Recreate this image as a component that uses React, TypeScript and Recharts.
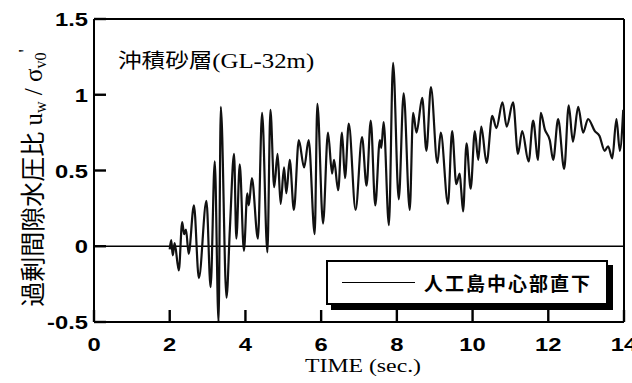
import {
  LineChart,
  Line,
  XAxis,
  YAxis,
  ReferenceLine,
  Legend,
  Customized,
} from "recharts";

// time (sec.) and excess pore water pressure ratio
const times = [
  2.0, 2.04, 2.08, 2.13, 2.24, 2.33, 2.38, 2.43, 2.5, 2.64,
  2.77, 2.97, 3.08, 3.19, 3.29, 3.35, 3.5, 3.59, 3.7, 3.76,
  3.85, 3.96, 4.05, 4.09, 4.17, 4.33, 4.44, 4.58, 4.66, 4.76,
  4.85, 4.93, 5.02, 5.08, 5.17, 5.28, 5.41, 5.55, 5.67, 5.83,
  5.9, 6.05, 6.18, 6.29, 6.34, 6.45, 6.55, 6.63, 6.73, 6.91,
  7.08, 7.2, 7.31, 7.43, 7.55, 7.59, 7.65, 7.79, 7.9, 8.05,
  8.18, 8.34, 8.43, 8.52, 8.67, 8.78, 8.9, 9.07, 9.16, 9.35,
  9.46, 9.57, 9.66, 9.7, 9.75, 9.84, 9.95, 10.06, 10.15, 10.23,
  10.37, 10.52, 10.63, 10.79, 10.9, 11.07, 11.2, 11.31, 11.48, 11.6,
  11.73, 11.8, 11.91, 12.04, 12.13, 12.26, 12.42, 12.54, 12.65, 12.79,
  12.92, 13.05, 13.23, 13.35, 13.49, 13.58, 13.69, 13.8, 13.89, 13.98,
];

const ratio = [
  -0.02, 0.04, -0.06, 0.02, -0.16, 0.16, 0.08, 0.11, -0.05, 0.27,
  -0.21, 0.3, -0.27, 0.56, -0.5, 0.92, -0.34, 0.12, 0.61, 0.05,
  0.54, -0.03, 0.35, 0.27, 0.45, 0.05, 0.88, -0.04, 0.9, 0.39,
  0.61, 0.28, 0.52, 0.35, 0.57, 0.24, 0.7, 0.52, 0.7, 0.08,
  0.94, 0.15, 0.75, 0.48, 0.57, 0.37, 0.75, 0.45, 0.81, 0.24,
  0.72, 0.4, 0.83, 0.27, 0.7, 0.65, 0.82, 0.14, 1.21, 0.31,
  1.01, 0.24, 0.88, 0.75, 0.98, 0.63, 1.05, 0.55, 0.75, 0.28,
  0.76, 0.41, 0.48, 0.37, 0.23, 0.68, 0.38, 0.76, 0.57, 0.79,
  0.55, 0.86, 0.78, 0.95, 0.79, 0.95, 0.61, 0.76, 0.56, 0.83,
  0.57, 0.88, 0.77, 0.7, 0.57, 0.84, 0.51, 0.93, 0.69, 0.92,
  0.75, 0.84, 0.76, 0.73, 0.63, 0.66, 0.58, 0.84, 0.63, 0.9,
];

const xTicks = [
  0, 0.5, 1, 1.5, 2, 2.5, 3, 3.5, 4, 4.5, 5, 5.5, 6, 6.5, 7,
  7.5, 8, 8.5, 9, 9.5, 10, 10.5, 11, 11.5, 12, 12.5, 13, 13.5, 14,
];
const xLabels = [0, 2, 4, 6, 8, 10, 12, 14];

const yTicks = [
  -0.5, -0.4, -0.3, -0.2, -0.1, 0, 0.1, 0.2, 0.3, 0.4, 0.5,
  0.6, 0.7, 0.8, 0.9, 1, 1.1, 1.2, 1.3, 1.4, 1.5,
];
const yLabels = [-0.5, 0, 0.5, 1, 1.5];

const data = times.map((t, i) => ({ t, v: ratio[i] }));

const W = 632;
const H = 383;
const PLOT_LEFT = 94;
const PLOT_RIGHT = 624;
const PLOT_TOP = 19;
const PLOT_BOTTOM = 322;

const X_DOMAIN: [number, number] = [0, 14];
const Y_DOMAIN: [number, number] = [-0.5, 1.5];

const MAJOR = -12; // negative: ticks point into the plot
const MINOR = -7;
const THIN = 0.5; // axes that only carry tick marks

const numFont = "'Liberation Sans', Arial, sans-serif";
const serifFont = "'Liberation Serif', 'Times New Roman', serif";
const cjkFont = "'Noto Sans CJK JP', 'Noto Sans CJK SC', sans-serif";

const tickLine = { stroke: "#000", strokeWidth: 2.4 };

function XTick(props: any) {
  const { x, payload } = props;
  return (
    <text
      transform={`translate(${x},351) scale(1.25,1)`}
      textAnchor="middle"
      fontFamily={numFont}
      fontWeight="bold"
      fontSize={19}
      fill="#000"
    >
      {payload.value}
    </text>
  );
}

function YTick(props: any) {
  const { y, payload } = props;
  return (
    <text
      transform={`translate(88,${y + 7}) scale(1.25,1)`}
      textAnchor="end"
      fontFamily={numFont}
      fontWeight="bold"
      fontSize={19}
      fill="#000"
    >
      {payload.value}
    </text>
  );
}

function Texts() {
  return (
    <g>
      <text transform="translate(118,68) scale(1.18,1)" fontSize={20} fill="#000">
        <tspan fontFamily={cjkFont}>沖積砂層</tspan>
        <tspan fontFamily={serifFont} fontSize={21}>(GL-32m)</tspan>
      </text>
      <text
        transform="translate(363,372) scale(1.25,1)"
        textAnchor="middle"
        fontFamily={serifFont}
        fontSize={19}
        fill="#000"
      >
        TIME (sec.)
      </text>
      <text
        transform="rotate(-90)"
        x={-178}
        y={42}
        textAnchor="middle"
        fontSize={25}
        fill="#000"
      >
        <tspan fontFamily={cjkFont}>過剰間隙水圧比</tspan>
        <tspan fontFamily={serifFont}> u</tspan>
        <tspan fontFamily={serifFont} fontSize={16} dy={4}>w</tspan>
        <tspan fontFamily={serifFont} dy={-4}> / σ</tspan>
        <tspan fontFamily={serifFont} fontSize={16} dy={4}>v0</tspan>
        <tspan fontFamily={serifFont} fontSize={18} dy={-14}>'</tspan>
      </text>
    </g>
  );
}

function LegendBox() {
  return (
    <div
      style={{
        boxSizing: "border-box",
        width: 282,
        height: 45,
        border: "2px solid #000",
        boxShadow: "5px 5px 0 #000",
        background: "#fff",
        display: "flex",
        alignItems: "center",
      }}
    >
      <div style={{ width: 73, borderTop: "1.5px solid #000", marginLeft: 14, marginRight: 9 }} />
      <span
        style={{
          fontFamily: cjkFont,
          fontSize: 19,
          fontWeight: 700,
          letterSpacing: 2,
          color: "#000",
          lineHeight: 1,
        }}
      >
        人工島中心部直下
      </span>
    </div>
  );
}

export default function App() {
  return (
    <div style={{ position: "absolute", left: 0, top: 0, background: "#fff" }}>
      <LineChart
        width={W}
        height={H}
        data={data}
        margin={{
          top: PLOT_TOP - 2 * THIN,
          right: W - PLOT_RIGHT - 2 * THIN,
          bottom: H - PLOT_BOTTOM - 2 * THIN,
          left: PLOT_LEFT - 2 * THIN,
        }}
      >
        {/* main axes: labels and major ticks */}
        <XAxis
          dataKey="t"
          type="number"
          domain={X_DOMAIN}
          ticks={xLabels}
          interval={0}
          allowDataOverflow
          height={THIN}
          tickSize={MAJOR}
          tickMargin={0}
          tickLine={tickLine}
          tick={<XTick />}
          axisLine={{ stroke: "#000", strokeWidth: 2 }}
        />
        <YAxis
          dataKey="v"
          type="number"
          domain={Y_DOMAIN}
          ticks={yLabels}
          interval={0}
          allowDataOverflow
          width={THIN}
          tickSize={MAJOR}
          tickMargin={0}
          tickLine={tickLine}
          tick={<YTick />}
          axisLine={{ stroke: "#000", strokeWidth: 2 }}
        />
        {/* tick-only axes: minor ticks and the mirrored top / right ticks */}
        <XAxis xAxisId="bm" type="number" domain={X_DOMAIN} allowDataOverflow ticks={xTicks}
          interval={0} height={THIN} tickSize={MINOR} tickLine={tickLine} tick={false} axisLine={false} />
        <XAxis xAxisId="tM" orientation="top" type="number" domain={X_DOMAIN} allowDataOverflow ticks={xLabels}
          interval={0} height={THIN} tickSize={MAJOR} tickLine={tickLine} tick={false} axisLine={false} />
        <XAxis xAxisId="tm" orientation="top" type="number" domain={X_DOMAIN} allowDataOverflow ticks={xTicks}
          interval={0} height={THIN} tickSize={MINOR} tickLine={tickLine} tick={false} axisLine={false} />
        <YAxis yAxisId="lm" type="number" domain={Y_DOMAIN} allowDataOverflow ticks={yTicks}
          interval={0} width={THIN} tickSize={MINOR} tickLine={tickLine} tick={false} axisLine={false} />
        <YAxis yAxisId="rM" orientation="right" type="number" domain={Y_DOMAIN} allowDataOverflow ticks={yLabels}
          interval={0} width={THIN} tickSize={MAJOR} tickLine={tickLine} tick={false} axisLine={false} />
        <YAxis yAxisId="rm" orientation="right" type="number" domain={Y_DOMAIN} allowDataOverflow ticks={yTicks}
          interval={0} width={THIN} tickSize={MINOR} tickLine={tickLine} tick={false} axisLine={false} />

        <ReferenceLine y={1.5} stroke="#000" strokeWidth={2} />
        <ReferenceLine x={14} stroke="#000" strokeWidth={2} />
        <ReferenceLine y={0} stroke="#000" strokeWidth={1.6} />

        <Line
          type="monotone"
          dataKey="v"
          stroke="#111"
          strokeWidth={2.2}
          dot={false}
          isAnimationActive={false}
        />
        <Legend
          layout="horizontal"
          verticalAlign="middle"
          align="center"
          content={<LegendBox />}
          wrapperStyle={{ left: 326, top: 260, width: 290, height: 50 }}
        />
        <Customized component={Texts} />
      </LineChart>
    </div>
  );
}
